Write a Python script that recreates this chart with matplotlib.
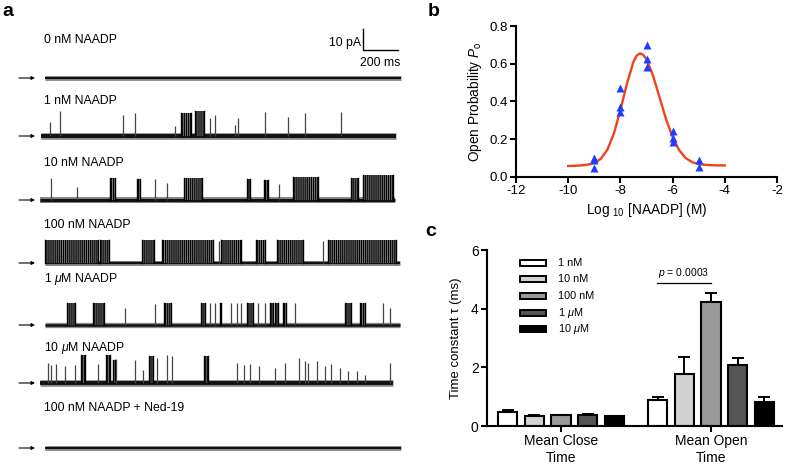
import matplotlib
matplotlib.use('Agg')
import matplotlib.pyplot as plt
from matplotlib.patches import Rectangle

plt.rcParams['font.family'] = ['Liberation Sans', 'DejaVu Sans']
plt.rcParams['mathtext.fontset'] = 'custom'
plt.rcParams['mathtext.rm'] = 'Liberation Sans'
plt.rcParams['mathtext.it'] = 'Liberation Sans:italic'
plt.rcParams['axes.unicode_minus'] = False
plt.rcParams['hatch.linewidth'] = 0.8

# ---------------- data ----------------
# panel a: single channel traces (times in ms, amplitudes in pA)
trace_labels = ['0 nM NAADP', '1 nM NAADP', '10 nM NAADP', '100 nM NAADP',
                '1 $\\mu$M NAADP', '10 $\\mu$M NAADP', '100 nM NAADP + Ned-19']
trace_len = [2034, 2030, 2027, 2030, 2030, 2017, 2034]

spikes_0nM = []
bursts_0nM = []

spikes_1nM = [(50, 6.9), (110, 12.1), (469, 10.0), (535, 10.8), (764, 4.8),
              (964, 8.4), (992, 10.0), (1107, 5.4), (1126, 8.4), (1278, 11.2),
              (1411, 9.0), (1507, 10.8), (1712, 11.6)]
bursts_1nM = [(798, 855, 10.8), (882, 931, 12.0)]

spikes_10nM = [(61, 10.5), (213, 6.0), (659, 10.0), (728, 8.0), (1364, 7.5)]
bursts_10nM = [(398, 430, 10.5), (556, 570, 10.0), (821, 926, 10.5),
               (1183, 1202, 10.0), (1280, 1303, 9.5), (1446, 1589, 11.0),
               (1779, 1817, 10.5), (1846, 2017, 12.0)]

spikes_100nM = [(992, 10.5), (1589, 10.5)]
bursts_100nM = [(0, 303, 11.0), (312, 364, 11.0), (554, 623, 11.0),
                (669, 960, 11.0), (1008, 1122, 11.0), (1208, 1255, 11.0),
                (1328, 1474, 11.0), (1617, 2008, 11.0)]

spikes_1uM = [(459, 8.0), (630, 10.0), (941, 10.3), (969, 10.3), (1061, 10.3),
              (1099, 10.3), (1122, 10.3), (1217, 10.3), (1255, 10.3),
              (1430, 10.3), (1931, 10.3), (1969, 8.0)]
bursts_1uM = [(128, 173, 10.3), (274, 337, 10.3), (680, 718, 10.3),
              (893, 912, 10.3), (998, 1008, 10.3), (1156, 1189, 10.3),
              (1284, 1303, 10.3), (1316, 1331, 10.3), (1360, 1379, 10.3),
              (1712, 1750, 10.3), (1798, 1827, 10.3)]

spikes_10uM = [(46, 9.5), (65, 8.7), (93, 9.0), (141, 7.9), (198, 8.7),
               (331, 9.0), (436, 11.6), (541, 11.1), (589, 6.3), (670, 11.9),
               (728, 13.2), (754, 12.7), (1128, 9.5), (1166, 8.7), (1198, 9.0),
               (1249, 7.9), (1341, 7.1), (1398, 9.5), (1478, 11.9), (1512, 10.3),
               (1531, 9.5), (1585, 10.6), (1630, 7.9), (1665, 9.0), (1712, 7.1),
               (1760, 5.9), (1813, 5.6), (1855, 4.0), (1998, 9.5)]
bursts_10uM = [(236, 255, 13.2), (379, 398, 13.2), (417, 427, 11.1),
               (623, 646, 12.7), (937, 960, 12.7)]

spikes_ned = []
bursts_ned = []

trace_spikes = [spikes_0nM, spikes_1nM, spikes_10nM, spikes_100nM,
                spikes_1uM, spikes_10uM, spikes_ned]
trace_bursts = [bursts_0nM, bursts_1nM, bursts_10nM, bursts_100nM,
                bursts_1uM, bursts_10uM, bursts_ned]

# panel b: open probability vs log concentration
po_x = [-9, -9, -9, -8, -8, -8, -7, -7, -7, -6, -6, -6, -5, -5]
po_y = [0.100, 0.088, 0.048, 0.470, 0.368, 0.343, 0.700, 0.625, 0.580,
        0.244, 0.207, 0.184, 0.088, 0.053]
fit_x = [-10.0, -9.75, -9.5, -9.25, -9.0, -8.75, -8.5, -8.25, -8.0, -7.75,
         -7.5, -7.375, -7.25, -7.125, -7.0, -6.75, -6.5, -6.25, -6.0, -5.75,
         -5.5, -5.25, -5.0, -4.75, -4.5, -4.25, -4.0]
fit_y = [0.057, 0.058, 0.060, 0.064, 0.073, 0.095, 0.143, 0.229, 0.354, 0.494,
         0.610, 0.643, 0.655, 0.647, 0.623, 0.537, 0.421, 0.305, 0.210, 0.141,
         0.099, 0.077, 0.067, 0.063, 0.061, 0.060, 0.060]

# panel c: time constants
conc_labels = ['1 nM', '10 nM', '100 nM', '1 $\\mu$M', '10 $\\mu$M']
conc_colors = ['white', '#d2d2d2', '#9a9a9a', '#555555', 'black']
groups = ['Mean Close\nTime', 'Mean Open\nTime']
close_mean = [0.47, 0.35, 0.37, 0.38, 0.33]
close_err = [0.09, 0.04, 0.01, 0.04, 0.01]
open_mean = [0.88, 1.77, 4.22, 2.07, 0.82]
open_err = [0.12, 0.57, 0.33, 0.26, 0.17]

# ---------------- figure ----------------
W, H = 787, 469
fig = plt.figure(figsize=(7.87, 4.69), dpi=100)


def box(l, t, r, b):
    return [l / W, 1 - b / H, (r - l) / W, (b - t) / H]


# ---- panel a ----
MS_PX = 0.175   # pixels per ms (200 ms = 35 px)
PA_PX = 2.1     # pixels per pA (10 pA = 21 px)
X0 = 45
ax_a = fig.add_axes([0, 0, 410 / W, 1])
ax_a.axis('off')
ax_a.set_xlim(-X0 / MS_PX, (410 - X0) / MS_PX)
ax_a.set_ylim(-H / PA_PX, 0)

base_px = [78, 136, 200, 263, 325, 383, 448]
label_px = [40, 101, 163, 225, 279, 348, 408]
shift = [0, -23, -29, 0, 0, -29, 0]
core_lw = [1.5, 2.8, 2.3, 1.6, 1.8, 2.8, 1.5]

for i in range(len(trace_labels)):
    b = -base_px[i] / PA_PX
    s = shift[i]
    ax_a.plot([s, s + trace_len[i]], [b, b], color='#8a8a8a',
              lw=core_lw[i] + 2.0, solid_capstyle='butt', zorder=1)
    ax_a.plot([s, s + trace_len[i]], [b, b], color='#111111',
              lw=core_lw[i], solid_capstyle='butt', zorder=2)
    for t0, t1, amp in trace_bursts[i]:
        ax_a.fill_between([s + t0, s + t1], b, b + amp, facecolor='#7a7a7a',
                          edgecolor='black', hatch='||||||||', linewidth=0, zorder=3)
        ax_a.plot([s + t0, s + t0], [b, b + amp], color='black', lw=1.0, zorder=3)
        ax_a.plot([s + t1, s + t1], [b, b + amp], color='black', lw=1.0, zorder=3)
    if trace_spikes[i]:
        ts = [s + t for t, a in trace_spikes[i]]
        amps = [b + a for t, a in trace_spikes[i]]
        ax_a.vlines(ts, b, amps, color='#444444', lw=0.9, zorder=3)
    ax_a.text(44 / 410, 1 - label_px[i] / H, trace_labels[i], transform=ax_a.transAxes,
              fontsize=8.8, ha='left', va='center')
    ax_a.annotate('', xy=(35 / 410, 1 - base_px[i] / H), xytext=(19 / 410, 1 - base_px[i] / H),
                  xycoords='axes fraction', textcoords='axes fraction',
                  arrowprops=dict(arrowstyle='-|>', lw=0.8, color='black',
                                  mutation_scale=5, shrinkA=0, shrinkB=0))

# scale bar
sb_t = (363 - X0) / MS_PX
sb_y = -50 / PA_PX
ax_a.plot([sb_t, sb_t, sb_t + 200], [sb_y + 10, sb_y, sb_y], color='black', lw=1.0,
          solid_joinstyle='miter')
ax_a.text(sb_t - 12, sb_y + 3.5, '10 pA', fontsize=8.8, ha='right', va='center')
ax_a.text(sb_t + 100, sb_y - 6.2, '200 ms', fontsize=8.8, ha='center', va='center')

fig.text(2 / W, 1 - 11 / H, 'a', fontsize=14, fontweight='bold', va='center')
fig.text(428 / W, 1 - 12 / H, 'b', fontsize=14, fontweight='bold', va='center')
fig.text(425 / W, 1 - 231 / H, 'c', fontsize=14, fontweight='bold', va='center')


def style_axes(ax):
    for side in ['top', 'right']:
        ax.spines[side].set_visible(False)
    for side in ['left', 'bottom']:
        ax.spines[side].set_linewidth(1.5)
    ax.tick_params(width=1.5, length=4, labelsize=9.5, pad=2)


# ---- panel b ----
ax_b = fig.add_axes(box(516, 26, 777, 176.7))
ax_b.plot(fit_x, fit_y, color='#f2421d', lw=1.7, zorder=2)
ax_b.plot(po_x, po_y, '^', color='#1f3cff', ms=5.5, mec='none', zorder=3, clip_on=False)
ax_b.set_xlim(-12, -2)
ax_b.set_ylim(0, 0.8)
ax_b.set_xticks([-12, -10, -8, -6, -4, -2])
ax_b.set_yticks([0.0, 0.2, 0.4, 0.6, 0.8])
ax_b.set_yticklabels(['0.0', '0.2', '0.4', '0.6', '0.8'])
style_axes(ax_b)
ax_b.set_xlabel('Log $_{10}$ [NAADP] (M)', fontsize=9.8, labelpad=3)
ax_b.set_ylabel('Open Probability $P_{\\mathrm{o}}$', fontsize=9.8, labelpad=4)

# ---- panel c ----
ax_c = fig.add_axes(box(487, 250, 782, 426))
step = 0.177
width = 0.127
for k in range(len(conc_labels)):
    off = (k - 2) * step
    ax_c.bar([0 + off, 1 + off], [close_mean[k], open_mean[k]], width=width,
             color=conc_colors[k], edgecolor='black', linewidth=1.5, zorder=2)
    ax_c.errorbar([0 + off, 1 + off], [close_mean[k], open_mean[k]],
                  yerr=[[0, 0], [close_err[k], open_err[k]]], fmt='none',
                  ecolor='black', elinewidth=1.4, capsize=4, capthick=1.4, zorder=1)
ax_c.set_xlim(-0.493, 1.473)
ax_c.set_ylim(0, 6)
ax_c.set_yticks([0, 2, 4, 6])
ax_c.set_xticks([0, 1])
ax_c.set_xticklabels(groups)
style_axes(ax_c)
ax_c.tick_params(axis='x', labelsize=10)
ax_c.tick_params(axis='y', labelsize=10)
ax_c.set_ylabel('Time constant \u03c4 (ms)', fontsize=9.5, labelpad=6)

# significance line
ax_c.plot([0.64, 1.0], [4.87, 4.87], color='black', lw=0.9, clip_on=False)
ax_c.text(0.82, 4.97, '$p$ = 0.0003', fontsize=7.5, ha='center', va='bottom')

# legend
leg_rows = [262.7, 279.3, 296, 312.7, 329.3]
for k in range(len(conc_labels)):
    y = leg_rows[k]
    fig.patches.append(Rectangle((520 / W, 1 - (y + 3) / H), 26 / W, 6 / H,
                                 transform=fig.transFigure, facecolor=conc_colors[k],
                                 edgecolor='black', linewidth=1.4))
    fig.text(558 / W, 1 - y / H, conc_labels[k], fontsize=7.8, ha='left', va='center')

fig.savefig('out.png', dpi=100)
